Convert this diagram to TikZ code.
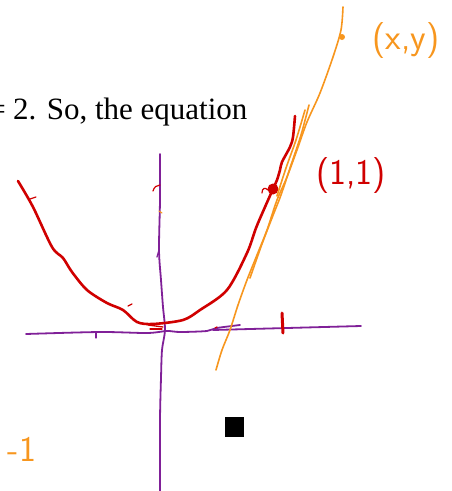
\documentclass[tikz,border=0pt]{standalone}
\usepackage{fontspec}
\setmainfont{Liberation Serif}
\begin{document}
\begin{tikzpicture}[x=1pt,y=-1pt,line cap=round,line join=round,
  axisline/.style={draw=axispurple,line width=1.8pt},
  curveline/.style={draw=curvered,line width=2.6pt},
  tanline/.style={draw=tanorange,line width=1.6pt},
  printtext/.style={inner sep=0pt,font=\fontsize{31}{36}\selectfont},
  handlabel/.style={font=\sffamily\fontsize{36}{40}\selectfont,inner sep=0pt}]
\definecolor{axispurple}{RGB}{128,32,152}
\definecolor{curvered}{RGB}{208,0,0}
\definecolor{tanorange}{RGB}{247,150,30}
\useasboundingbox (0,0) rectangle (451,491);
\clip (0,0) rectangle (451,491);
% printed text
\node[printtext,anchor=base west] (eqtext) at (13,119) {2. So, the equation};
\node[printtext,anchor=base east] (eqsign) at (6,119) {=};
% axes
\draw[axisline] plot[smooth,tension=0.5] coordinates {(160,154) (160,200) (159,250) (161,280) (163,307) (165,330) (162,350) (161,378) (160,420) (160,491)};
\draw[axisline,line width=1.3pt] (157,257) -- (159,250);
\draw[axisline] plot[smooth,tension=0.5] coordinates {(26,334) (100,332) (147,333) (167,331) (180,332) (207,331) (217,328) (240,325)};
\draw[axisline] (213,330) -- (361,326);
\draw[axisline,line width=1.2pt] (96,333) -- (96,338);
% parabola
\draw[curveline] plot[smooth,tension=0.5] coordinates {(18,181) (33,207) (52,247) (63,258) (72,272) (87,290) (107,303) (123,310) (137,322) (153,324) (183,320) (200,310) (227,290) (247,253) (256,228) (265,207) (273,189) (277,180) (280,170) (282,162) (290,147) (293,137) (295,116)};
\fill[curvered] (273,189) circle (5.5);
\draw[curvered,line width=1.2pt] (262,193) .. controls (262,188) and (265,187) .. (268,190);
\draw[curvered,line width=1.2pt] (153,191) .. controls (154,187) and (157,185) .. (160,185);
\draw[curvered,line width=1.2pt] (30,199) -- (36,197);
\draw[curvered,line width=1.2pt] (128,306) -- (132,304);
\draw[curvered,line width=1.3pt] (148,325) -- (163,327);
\draw[curvered,line width=1.3pt] (150,329) -- (162,329);
\draw[curvered,line width=3pt] (282,313) -- (283,333);
\draw[curvered,line width=1.2pt] (215,328) -- (217,327);
% tangent line strokes
\draw[tanline] plot[smooth,tension=0.5] coordinates {(343,7) (341,30) (333,57) (320,93) (307,122) (297,150) (287,177) (277,200) (267,230) (257,255) (247,280) (238,305) (230,330) (222,350) (216,370)};
\draw[tanline] plot[smooth,tension=0.5] coordinates {(309,105) (301,135) (291,165) (281,195) (272,218) (262,244) (250,278)};
\draw[tanline] plot[smooth,tension=0.5] coordinates {(305,110) (296,140) (286,168) (277,196)};
\fill[tanorange] (342,37) circle (3);
\draw[tanline,line width=1.2pt] (159,211) -- (162,213);
% labels
\node[handlabel,text=tanorange] (xylabel) at (406,41) {(x,y)};
\node[handlabel,text=curvered] (onelabel) at (351,176) {(1,1)};
\node[handlabel,text=tanorange] (minusone) at (22,449) {-1};
% black square
\fill[black] (225,417) rectangle (244,437);
\end{tikzpicture}
\end{document}
